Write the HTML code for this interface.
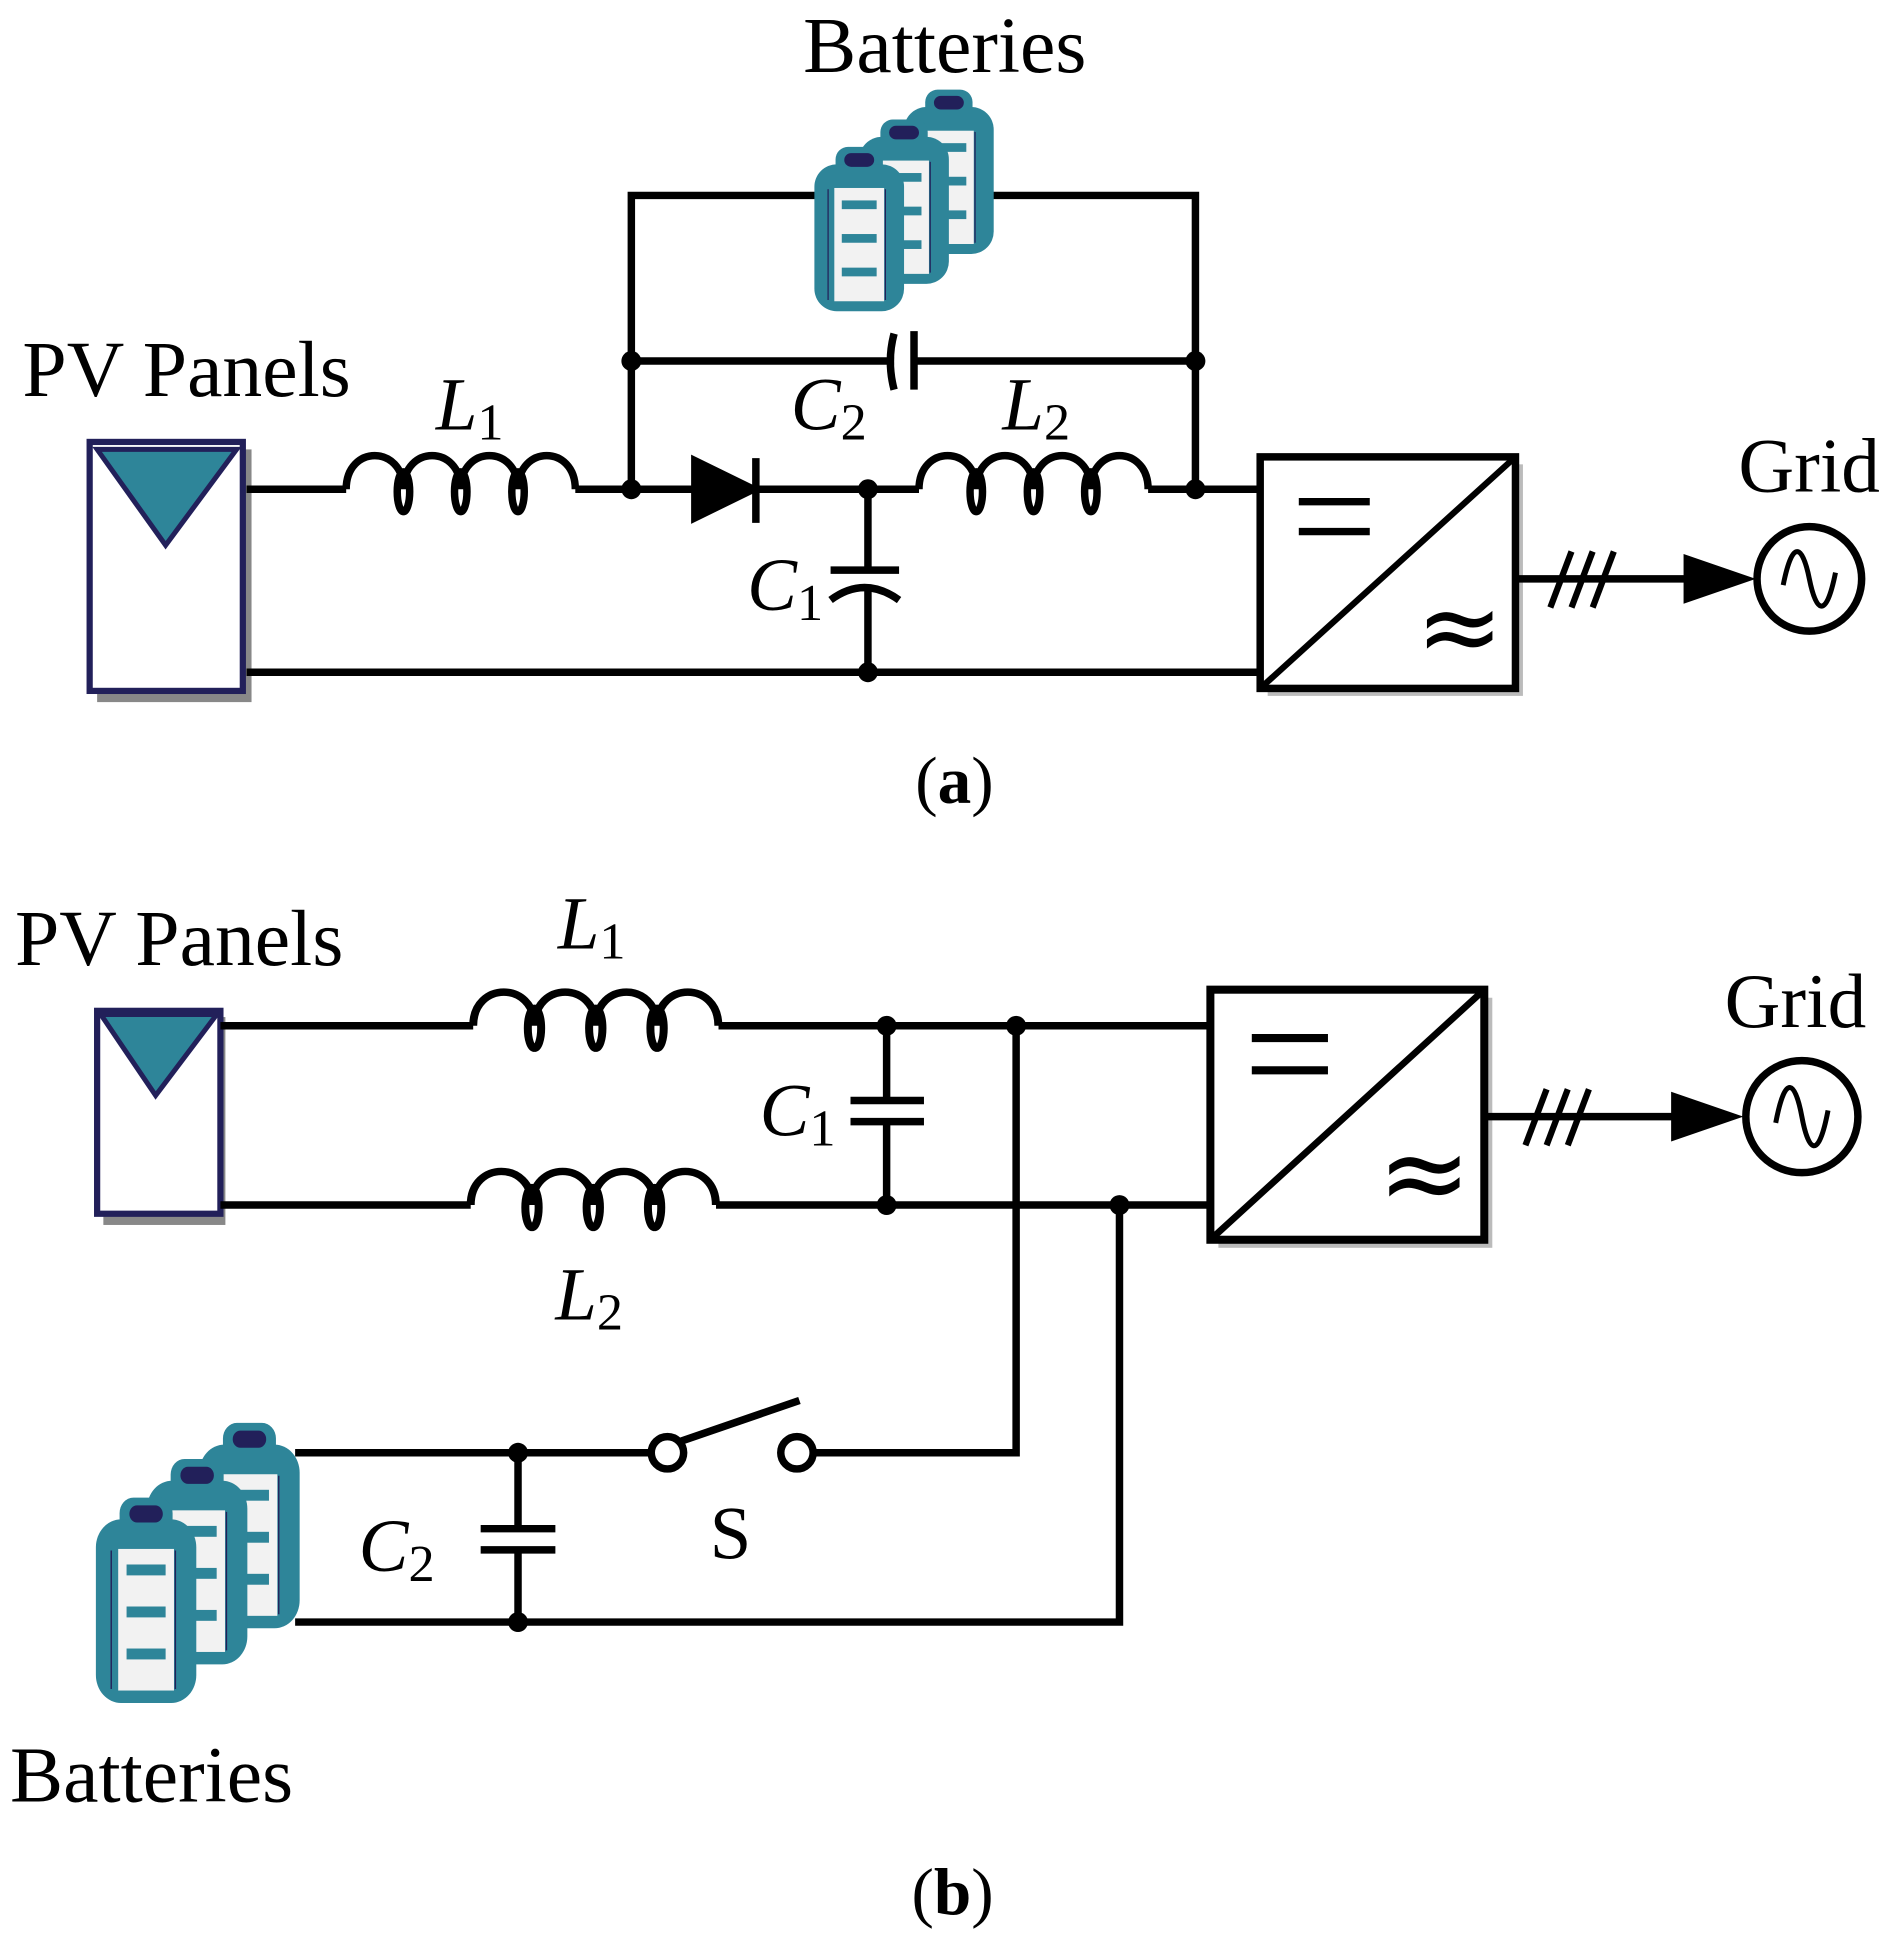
<!DOCTYPE html>
<html><head><style>html,body{margin:0;padding:0;background:#fff}svg{display:block}</style></head><body>
<svg width="1899" height="1942" viewBox="0 0 1525 1560" preserveAspectRatio="none" xmlns="http://www.w3.org/2000/svg" font-family="Liberation Serif, serif">
<defs>
<g id="bat">
<rect x="17" y="0" width="38" height="26" rx="10" fill="#2e8599"/>
<rect x="0" y="14" width="72" height="118" rx="18" fill="#2e8599"/>
<rect x="16" y="33" width="40" height="91" fill="#f2f2f2"/>
<line x1="57" y1="34" x2="57" y2="123" stroke="#22205a" stroke-width="1"/>
<line x1="11" y1="34" x2="11" y2="123" stroke="#22205a" stroke-width="1"/>
<rect x="22" y="43" width="28" height="7" fill="#2e8599"/>
<rect x="22" y="70" width="28" height="7" fill="#2e8599"/>
<rect x="22" y="97" width="28" height="7" fill="#2e8599"/>
<rect x="24" y="5" width="24" height="11" rx="5.5" fill="#22205a"/>
</g>
<g id="ind" fill="none" stroke="#000" stroke-width="6">
<path d="M0 0 C0 -36 46 -36 46 0 M46 0 C46 -36 92 -36 92 0 M92 0 C92 -36 138 -36 138 0 M138 0 C138 -36 184 -36 184 0"/>
<ellipse cx="46" cy="2" rx="5" ry="16"/>
<ellipse cx="92" cy="2" rx="5" ry="16"/>
<ellipse cx="138" cy="2" rx="5" ry="16"/>
</g>
<g id="conv">
<rect x="6" y="6" width="205" height="186" fill="#bbb" stroke="none"/>
<rect x="0" y="0" width="205" height="186" fill="#fff" stroke="#000" stroke-width="6"/>
<line x1="0" y1="186" x2="205" y2="0" stroke="#000" stroke-width="5"/>
<line x1="31" y1="36" x2="88" y2="36" stroke="#000" stroke-width="6"/>
<line x1="31" y1="60" x2="88" y2="60" stroke="#000" stroke-width="6"/>
<text x="125" y="165" font-size="84" stroke="none" fill="#000" font-family="DejaVu Sans, sans-serif">≈</text>
</g>
</defs>
<g stroke="#000" stroke-width="6" fill="none">
<!-- (a) -->
<rect x="78" y="361" width="124" height="203" fill="#888" stroke="none"/>
<rect x="72" y="355" width="123" height="200" fill="#fff" stroke="#22205a" stroke-width="5"/>
<polygon points="78,361 190,361 133,438" fill="#2e8599" stroke="#22205a" stroke-width="4"/>
<polyline points="198,393 278,393"/>
<use href="#ind" x="278" y="393"/>
<polyline points="462,393 560,393"/>
<polyline points="605,393 738,393"/>
<use href="#ind" x="738" y="393"/>
<polyline points="922,393 1012,393"/>
<polygon points="558,370 558,416 605,393" fill="#000"/>
<line x1="607" y1="368" x2="607" y2="420"/>
<polyline points="198,540 1012,540"/>
<line x1="697" y1="393" x2="697" y2="458"/>
<line x1="667" y1="458" x2="722" y2="458"/>
<path d="M667 482 Q694 462 722 482"/>
<line x1="697" y1="470" x2="697" y2="540"/>
<polyline points="507,393 507,157 660,157"/>
<polyline points="795,157 960,157 960,393"/>
<line x1="507" y1="290" x2="718" y2="290"/>
<line x1="734" y1="290" x2="960" y2="290"/>
<path d="M718 268 Q712 290 718 313"/>
<line x1="734" y1="266" x2="734" y2="313"/>
<use href="#conv" x="1012" y="367"/>
<line x1="1217" y1="465" x2="1355" y2="465"/>
<polygon points="1352,445 1352,485 1410,465" fill="#000" stroke="none"/>
<line x1="1245" y1="488" x2="1262" y2="443" stroke-width="5"/>
<line x1="1262" y1="488" x2="1279" y2="443" stroke-width="5"/>
<line x1="1279" y1="488" x2="1296" y2="443" stroke-width="5"/>
<circle cx="1453" cy="465" r="42"/>
<path d="M1432 470 C1440 430 1448 440 1453 465 C1458 490 1466 500 1474 460" stroke-width="4"/>
<!-- (b) -->
<rect x="83" y="817" width="98" height="167" fill="#888" stroke="none"/>
<rect x="78" y="812" width="99" height="163" fill="#fff" stroke="#22205a" stroke-width="5"/>
<polygon points="81,815 174,815 125,880" fill="#2e8599" stroke="#22205a" stroke-width="4"/>
<polyline points="177,824 380,824"/>
<use href="#ind" transform="translate(380 824) scale(1.07 1)"/>
<polyline points="577,824 972,824"/>
<polyline points="177,968 378,968"/>
<use href="#ind" transform="translate(378 968) scale(1.07 1)"/>
<polyline points="575,968 972,968"/>
<line x1="712" y1="824" x2="712" y2="884"/>
<line x1="683" y1="884" x2="742" y2="884"/>
<line x1="683" y1="901" x2="742" y2="901"/>
<line x1="712" y1="901" x2="712" y2="968"/>
<polyline points="816,824 816,1167 652,1167"/>
<polyline points="899,968 899,1303 237,1303"/>
<line x1="237" y1="1167" x2="523" y2="1167"/>
<circle cx="536" cy="1167" r="13"/>
<circle cx="640" cy="1167" r="13"/>
<line x1="546" y1="1158" x2="642" y2="1125"/>
<line x1="416" y1="1167" x2="416" y2="1228"/>
<line x1="386" y1="1228" x2="446" y2="1228"/>
<line x1="386" y1="1245" x2="446" y2="1245"/>
<line x1="416" y1="1245" x2="416" y2="1303"/>
<use href="#conv" transform="translate(972 795) scale(1.073 1.08)"/>
<line x1="1192" y1="897" x2="1345" y2="897"/>
<polygon points="1342,877 1342,917 1400,897" fill="#000" stroke="none"/>
<line x1="1225" y1="920" x2="1242" y2="875" stroke-width="5"/>
<line x1="1242" y1="920" x2="1259" y2="875" stroke-width="5"/>
<line x1="1259" y1="920" x2="1276" y2="875" stroke-width="5"/>
<circle cx="1447" cy="897" r="45"/>
<path d="M1426 902 C1434 860 1442 870 1447 897 C1452 924 1460 934 1468 892" stroke-width="4"/>
</g>
<g fill="#000">
<circle cx="507" cy="393" r="8"/><circle cx="697" cy="393" r="8"/><circle cx="960" cy="393" r="8"/>
<circle cx="507" cy="290" r="8"/><circle cx="960" cy="290" r="8"/><circle cx="697" cy="540" r="8"/>
<circle cx="712" cy="824" r="8"/><circle cx="816" cy="824" r="8"/><circle cx="712" cy="968" r="8"/><circle cx="899" cy="968" r="8"/>
<circle cx="416" cy="1167" r="8"/><circle cx="416" cy="1303" r="8"/>
</g>
<use href="#bat" x="726" y="72"/>
<use href="#bat" x="690" y="96"/>
<use href="#bat" x="654" y="118"/>
<use href="#bat" transform="translate(160 1143) scale(1.12 1.25)"/>
<use href="#bat" transform="translate(118 1172) scale(1.12 1.25)"/>
<use href="#bat" transform="translate(77 1203) scale(1.12 1.25)"/>
<g font-size="64" fill="#000">
<text x="645" y="58">Batteries</text>
<text x="18" y="318">PV Panels</text>
<text x="1396" y="395" font-size="62">Grid</text>
<text x="735" y="645" font-size="54">(<tspan font-weight="bold">a</tspan>)</text>
<text x="350" y="345" font-style="italic" font-size="60">L<tspan font-size="42" font-style="normal" dy="8">1</tspan></text>
<text x="805" y="345" font-style="italic" font-size="60">L<tspan font-size="42" font-style="normal" dy="8">2</tspan></text>
<text x="635" y="345" font-style="italic" font-size="60">C<tspan font-size="42" font-style="normal" dy="8">2</tspan></text>
<text x="600" y="490" font-style="italic" font-size="60">C<tspan font-size="42" font-style="normal" dy="8">1</tspan></text>
<text x="12" y="775">PV Panels</text>
<text x="1385" y="825" font-size="62">Grid</text>
<text x="448" y="762" font-style="italic" font-size="60">L<tspan font-size="42" font-style="normal" dy="8">1</tspan></text>
<text x="446" y="1060" font-style="italic" font-size="60">L<tspan font-size="42" font-style="normal" dy="8">2</tspan></text>
<text x="610" y="912" font-style="italic" font-size="60">C<tspan font-size="42" font-style="normal" dy="8">1</tspan></text>
<text x="288" y="1262" font-style="italic" font-size="60">C<tspan font-size="42" font-style="normal" dy="8">2</tspan></text>
<text x="570" y="1252" font-size="60">S</text>
<text x="8" y="1447">Batteries</text>
<text x="732" y="1538" font-size="54">(<tspan font-weight="bold">b</tspan>)</text>
</g>
</svg>
</body></html>
